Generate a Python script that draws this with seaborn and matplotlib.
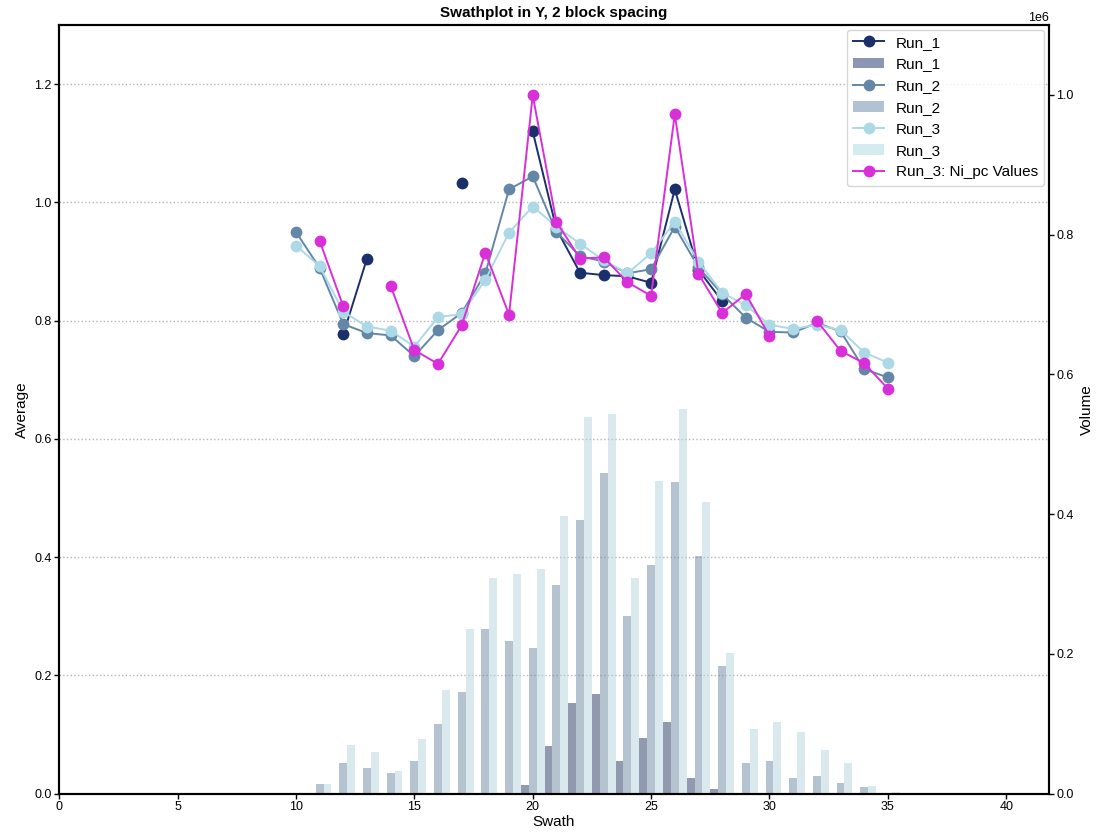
import numpy as np
import pandas as pd
import matplotlib
matplotlib.use("Agg")
import matplotlib.pyplot as plt
from matplotlib.lines import Line2D
from matplotlib.patches import Patch
import seaborn as sns

# Swath values (Y direction, 2 block spacing)
swath = list(range(10, 36))
nan = np.nan

# Average grade per swath (NaN = no blocks in swath)
run1_avg = [nan, nan, 0.777, 0.905, nan, nan, nan, 1.032, nan, nan,
            1.120, 0.955, 0.881, 0.877, 0.875, 0.864, 1.022, 0.886, 0.833, nan,
            nan, nan, nan, nan, nan, nan]
run2_avg = [0.950, 0.889, 0.794, 0.779, 0.775, 0.740, 0.784, 0.813, 0.880, 1.022,
            1.044, 0.950, 0.909, 0.900, 0.880, 0.887, 0.959, 0.890, 0.845, 0.805,
            0.781, 0.780, 0.796, 0.782, 0.718, 0.704]
run3_avg = [0.927, 0.892, 0.815, 0.790, 0.783, 0.756, 0.806, 0.811, 0.869, 0.949,
            0.993, 0.959, 0.930, 0.902, 0.880, 0.914, 0.967, 0.900, 0.847, 0.826,
            0.793, 0.786, 0.793, 0.784, 0.746, 0.729]
ni_pc_avg = [nan, 0.935, 0.824, nan, 0.859, 0.750, 0.727, 0.792, 0.915, 0.810,
             1.181, 0.967, 0.905, 0.907, 0.865, 0.842, 1.149, 0.879, 0.813, 0.845,
             0.774, nan, 0.800, 0.749, 0.728, 0.685]

# Volume per swath
run1_vol = [0, 0, 1500, 1500, 0, 0, 0, 1000, 0, 0,
            13000, 69000, 130000, 142000, 47000, 80000, 102000, 23000, 7000, 0,
            0, 0, 0, 0, 0, 0]
run2_vol = [1500, 14000, 44000, 37000, 29000, 47000, 100000, 145000, 235000, 218000,
            209000, 298000, 391000, 459000, 254000, 327000, 446000, 340000, 183000, 44000,
            47000, 23000, 26000, 16000, 9000, 1000]
run3_vol = [500, 14000, 70000, 59000, 33000, 79000, 149000, 235000, 308000, 315000,
            322000, 398000, 539000, 543000, 308000, 447000, 550000, 417000, 201000, 92000,
            102000, 89000, 63000, 44000, 11000, 3000]

runs = ['Run_1', 'Run_2', 'Run_3']
colors = {'Run_1': '#1b2f6b', 'Run_2': '#6487a8', 'Run_3': '#add8e6'}
ni_color = '#d92fd9'

plt.rcParams['font.family'] = ['Liberation Sans', 'DejaVu Sans']


def segments(x, y):
    """Split a series at NaN gaps so the line breaks like in the original."""
    df = pd.DataFrame({'swath': x, 'avg': y})
    df['seg'] = df['avg'].isna().cumsum()
    return df.dropna()


fig, ax = plt.subplots(figsize=(10.96, 8.32), dpi=100)
fig.subplots_adjust(left=0.054, right=0.957, bottom=0.046, top=0.970)
ax2 = ax.twinx()

# Bars on the volume axis
vol_df = pd.DataFrame({
    'swath': swath * 3,
    'vol': run1_vol + run2_vol + run3_vol,
    'run': [r for r in runs for _ in swath],
})
sns.barplot(data=vol_df, x='swath', y='vol', hue='run', hue_order=runs,
            palette=colors, native_scale=True, width=1.0, dodge=True,
            alpha=0.5, errorbar=None, legend=False, linewidth=0, ax=ax2)

# Lines on the average axis
line_sets = [('Run_1', run1_avg, colors['Run_1']),
             ('Run_2', run2_avg, colors['Run_2']),
             ('Run_3', run3_avg, colors['Run_3']),
             ('Run_3: Ni_pc Values', ni_pc_avg, ni_color)]
for name, vals, c in line_sets:
    d = segments(swath, vals)
    sns.lineplot(data=d, x='swath', y='avg', units='seg', estimator=None,
                 sort=False, color=c, marker='o', markersize=8.5,
                 markeredgewidth=0, markeredgecolor=c, linewidth=1.4, ax=ax)

ax.set_xlim(0, 41.8)
ax.set_xticks(range(0, 45, 5))
ax.set_ylim(0, 1.3)
ax.set_yticks(np.arange(0, 1.21, 0.2))
ax2.set_ylim(0, 1.1e6)
ax2.set_yticks(np.arange(0, 1.01e6, 0.2e6))

ax.yaxis.grid(True, linestyle=':', color='#b5b5b5', linewidth=1.0)
ax.xaxis.grid(False)

ax.set_xlabel('Swath', fontsize=11, labelpad=1)
ax.set_ylabel('Average', fontsize=11)
ax2.set_ylabel('Volume', fontsize=11)
ax2.set_xlabel('')
ax.set_title('Swathplot in Y, 2 block spacing', fontsize=11, fontweight='bold')

for a in (ax, ax2):
    a.tick_params(direction='out', length=3.5, width=1, labelsize=9, pad=2)
    for s in a.spines.values():
        s.set_linewidth(1.5)
        s.set_color('black')
ax2.yaxis.get_offset_text().set_fontsize(9)

handles = []
labels = []
for r in runs:
    handles.append(Line2D([], [], color=colors[r], marker='o', markersize=8.5,
                          markeredgewidth=0, linewidth=1.4))
    labels.append(r)
    handles.append(Patch(facecolor=colors[r], alpha=0.5, linewidth=0))
    labels.append(r)
handles.append(Line2D([], [], color=ni_color, marker='o', markersize=8.5,
                      markeredgewidth=0, linewidth=1.4))
labels.append('Run_3: Ni_pc Values')
ax2.legend(handles, labels, loc='upper right', fontsize=11, borderaxespad=0.3,
           fancybox=True, edgecolor='#cccccc')

plt.savefig('out.png')
print("Saved out.png")
